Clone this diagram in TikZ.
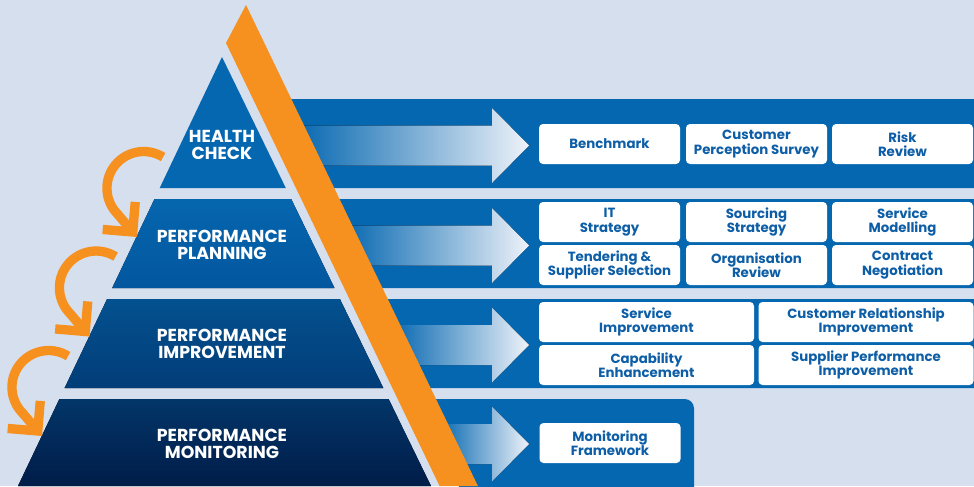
\documentclass[tikz,border=0pt]{standalone}
\usepackage{fontspec}
\setmainfont{Poppins}
\usetikzlibrary{arrows.meta}
\definecolor{bgblue}{HTML}{D5DFEE}
\definecolor{bandblue}{HTML}{0567B0}
\definecolor{fadeblue}{HTML}{EEF2F9}
\definecolor{textblue}{HTML}{0D5EA6}
\definecolor{pyrorange}{HTML}{F6901E}
\definecolor{lvtwotop}{HTML}{0566AE}
\definecolor{lvtwobot}{HTML}{03579F}
\definecolor{lvthreetop}{HTML}{03518F}
\definecolor{lvthreebot}{HTML}{023D78}
\definecolor{lvfourtop}{HTML}{023669}
\definecolor{lvfourbot}{HTML}{011C48}
\tikzset{
  item/.style={fill=white, rounded corners=3pt, text=textblue, align=center,
    font=\bfseries\fontsize{10}{10.8}\selectfont, minimum height=30pt, inner sep=0pt},
  narrow/.style={item, minimum width=105.75pt},
  wide/.style={item, minimum width=161.25pt},
  stage/.style={text=white, align=center, font=\bfseries\fontsize{13}{12.5}\selectfont},
  strip/.style={fill=bandblue},
  glow/.style={left color=bandblue, right color=fadeblue},
  cycle arrow/.style={draw=pyrorange, line width=7pt, -{Straight Barb[length=16pt,width=32pt]}}
}
\begin{document}
\begin{tikzpicture}[x=0.75pt, y=-0.75pt]
  \useasboundingbox[fill=bgblue] (0,0) rectangle (974,486);
  % bands behind the orange bar
  \foreach \t/\b in {99/188, 199/288, 299/388}
    \fill[strip] ({224.5+0.482*\t},\t) -- (980,\t) -- (980,\b) -- ({224.5+0.482*\b},\b) -- cycle;
  \fill[strip, rounded corners=7pt] ({224.5+0.482*399},399) -- (694,399) -- (694,500)
    -- ({224.5+0.482*500},500) -- cycle;
  % arrows
  \foreach \c in {145.5, 245.5, 345, 444}
    \fill[glow] ({224.5+0.482*\c},\c-20) -- (492,\c-20) -- (492,\c-37.5) -- (529,\c)
      -- (492,\c+37.5) -- (492,\c+20) -- ({224.5+0.482*\c},\c+20) -- cycle;
  % pyramid
  \fill[bandblue] (222,57) -- (285.8,188) -- (159.7,188) -- cycle;
  \fill[top color=lvtwotop, bottom color=lvtwobot]
    (154.5,199) -- (291.2,199) -- (334.5,288) -- (112.2,288) -- cycle;
  \fill[top color=lvthreetop, bottom color=lvthreebot]
    (107.1,299) -- (339.9,299) -- (383.3,388) -- (64.6,388) -- cycle;
  \fill[top color=lvfourtop, bottom color=lvfourbot]
    (59.4,399) -- (388.6,399) -- (431,486) -- (18,486) -- cycle;
  % orange bar
  \fill[pyrorange] (226,43) -- (246,5) -- (477.9,486) -- (439.6,486) -- cycle;

  \node[stage] (health) at (222,145) {HEALTH\\CHECK};
  \node[stage] (planning) at (222,245) {PERFORMANCE\\PLANNING};
  \node[stage] (improvement) at (222,344) {PERFORMANCE\\IMPROVEMENT};
  \node[stage] (monitoring) at (222,444) {PERFORMANCE\\MONITORING};

  \node[narrow] (bench) at (609.5,144) {Benchmark};
  \node[narrow] (survey) at (756.5,144) {Customer\\Perception Survey};
  \node[narrow] (risk) at (902.5,144) {Risk\\Review};
  \node[narrow] (itstrat) at (609.5,222) {IT\\Strategy};
  \node[narrow] (sourcing) at (756.5,222) {Sourcing\\Strategy};
  \node[narrow] (modelling) at (902.5,222) {Service\\Modelling};
  \node[narrow] (tendering) at (609.5,265) {Tendering \&\\Supplier Selection};
  \node[narrow] (orgreview) at (756.5,265) {Organisation\\Review};
  \node[narrow] (contract) at (902.5,265) {Contract\\Negotiation};
  \node[wide] (servimp) at (646.5,322) {Service\\Improvement};
  \node[wide] (custrel) at (866,322) {Customer Relationship\\Improvement};
  \node[wide] (capab) at (646.5,365) {Capability\\Enhancement};
  \node[wide] (supplier) at (866,365) {Supplier Performance\\Improvement};
  \node[narrow] (monitor) at (610,443) {Monitoring\\Framework};

  % cycle arrows
  \coordinate (s1) at (163.1,157.1);
  \coordinate (t1) at (137,237);
  \coordinate (s2) at (115.6,256.6);
  \coordinate (t2) at (89.5,336.5);
  \coordinate (s3) at (68.1,356.1);
  \coordinate (t3) at (42,436);
  \draw[cycle arrow] (s1) arc[start angle=-58, end angle=-225, radius=36.7] -- (t1);
  \draw[cycle arrow] (s2) arc[start angle=-58, end angle=-225, radius=36.7] -- (t2);
  \draw[cycle arrow] (s3) arc[start angle=-58, end angle=-225, radius=36.7] -- (t3);
\end{tikzpicture}
\end{document}
